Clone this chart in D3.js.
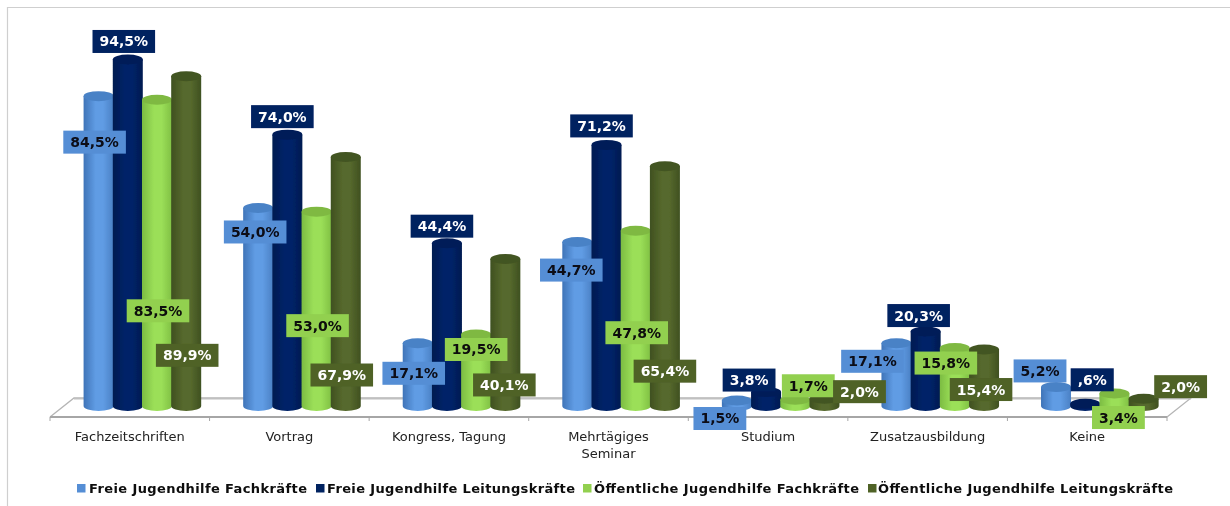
<!DOCTYPE html>
<html><head><meta charset="utf-8">
<script src="https://cdn.jsdelivr.net/npm/d3@7"></script>
<style>html,body{margin:0;padding:0;background:#fff}svg{display:block}</style>
</head><body><svg id="c" width="1230" height="506"></svg>
<script>
const categories = [["Fachzeitschriften"],["Vortrag"],["Kongress, Tagung"],["Mehrtägiges","Seminar"],["Studium"],["Zusatzausbildung"],["Keine"]];
const seriesNames = ["Freie Jugendhilfe Fachkräfte","Freie Jugendhilfe Leitungskräfte","Öffentliche Jugendhilfe Fachkräfte","Öffentliche Jugendhilfe Leitungskräfte"];
const freieFach = [84.5,54.0,17.1,44.7,1.5,17.1,5.2];
const freieLeitung = [94.5,74.0,44.4,71.2,3.8,20.3,0.6];
const oeffFach = [83.5,53.0,19.5,47.8,1.7,15.8,3.4];
const oeffLeitung = [89.9,67.9,40.1,65.4,2.0,15.4,2.0];
const valueSeries = [freieFach,freieLeitung,oeffFach,oeffLeitung];
// label nudges [dx,dy] relative to each bar's centre and top
const labelNudges = [
 [[-4,46],[-3,24],[-4,30],[-6,28],[-17,18],[-24,18],[-16,-16]],
 [[-4,-18],[-5,-18],[-5,-17],[-5,-19],[-17,-12],[-7,-16],[7,-24]],
 [[1,211],[1,114],[0,15],[1,102],[13,-14],[-9,15],[4,24]],
 [[1,279],[-4,218],[-1,126],[0,205],[35,-7],[-3,40],[37,-12]]
];
const palette = [
 {edge:"#3f74b8",mid:"#609ce4",right:"#4a80c4",cap:"#4a82c6",box:"#558ed5",text:"#0a0a14"},
 {edge:"#001a50",mid:"#002368",right:"#001a50",cap:"#001c58",box:"#002060",text:"#ffffff"},
 {edge:"#7cbc42",mid:"#9bdf58",right:"#80c044",cap:"#7fb943",box:"#92d050",text:"#0a0a0a"},
 {edge:"#3f5020",mid:"#56692d",right:"#3f5020",cap:"#435422",box:"#4f6228",text:"#ffffff"}
];
const fmt = v => (v<1 ? String(v.toFixed(1)).replace(/^0/,"") : v.toFixed(1)).replace(".",",")+"%";

const svg = d3.select("#c");
const W=1230;
const x = d3.scaleBand().domain(d3.range(categories.length)).range([50,1167]).paddingInner(0).paddingOuter(0);
const y = d3.scaleLinear().domain([0,100]).range([406,39.3]);
const barW = x.bandwidth()*0.183;
const barStart = x.bandwidth()*0.213;
const ry = 5;

// frame
svg.append("path").attr("d",`M7.5,506V7.5H${W}`).attr("fill","none").attr("stroke","#cfcfcf").attr("stroke-width",1.2);

// gradients
const defs = svg.append("defs");
palette.forEach((p,i)=>{
  const g = defs.append("linearGradient").attr("id","g"+i);
  g.append("stop").attr("offset","0%").attr("stop-color",p.edge);
  g.append("stop").attr("offset","40%").attr("stop-color",p.mid);
  g.append("stop").attr("offset","65%").attr("stop-color",p.mid);
  g.append("stop").attr("offset","100%").attr("stop-color",p.right);
});
defs.append("filter").attr("id","soft").append("feGaussianBlur").attr("stdDeviation",0.5);
const chart = svg.append("g").attr("filter","url(#soft)");

// floor
const fx0=x.range()[0], fx1=x.range()[1], fy=417, by=398, skew=24;
chart.append("path").attr("d",`M${fx0},${fy}L${fx0+skew},${by}H${fx1+skew}L${fx1},${fy}`).attr("fill","none").attr("stroke","#b5b5b5").attr("stroke-width",1.3);
chart.append("line").attr("x1",fx0+skew).attr("x2",fx1+skew).attr("y1",by+0.8).attr("y2",by+0.8).attr("stroke","#c0c0c0").attr("stroke-width",1.5);
// axis
const axisG = chart.append("g").attr("transform",`translate(0,${fy})`);
axisG.append("line").attr("x1",fx0).attr("x2",fx1).attr("stroke","#a6a6a6").attr("stroke-width",1.8);
d3.range(categories.length+1).forEach(i=>{
  const tx = fx0 + i*x.step();
  axisG.append("line").attr("x1",tx).attr("x2",tx).attr("y1",0).attr("y2",4).attr("stroke","#a6a6a6");
});
categories.forEach((lines,i)=>{
  const t = axisG.append("text").attr("x",x(i)+x.bandwidth()/2).attr("y",24)
    .attr("text-anchor","middle").attr("font-family","'DejaVu Sans'").attr("font-size",13).attr("fill","#222");
  lines.forEach((s,k)=>t.append("tspan").attr("x",x(i)+x.bandwidth()/2).attr("dy",k?17:0).text(s));
});

// bars
categories.forEach((_,c)=>{
  valueSeries.forEach((vals,s)=>{
    const bx = x(c)+barStart+s*barW, top=y(vals[c]), base=y(0), p=palette[s], rx=barW/2+0.4;
    const cx=bx+barW/2;
    chart.append("path")
      .attr("d",`M${cx-rx},${top}V${base}A${rx},${ry} 0 0 0 ${cx+rx},${base}V${top}Z`)
      .attr("fill",`url(#g${s})`);
    chart.append("ellipse").attr("cx",cx).attr("cy",top).attr("rx",rx).attr("ry",ry).attr("fill",p.cap);
  });
});
// labels
const labels = chart.append("g");
valueSeries.forEach((vals,s)=>{
  categories.forEach((_,c)=>{
    const cx = x(c)+barStart+s*barW+barW/2, top=y(vals[c]);
    const [dx,dy]=labelNudges[s][c];
    const g = labels.append("g").attr("transform",`translate(${cx+dx},${top+dy})`);
    const rect = g.append("rect");
    const t = g.append("text").attr("text-anchor","middle").attr("y",5).attr("font-family","'DejaVu Sans'")
      .attr("font-weight","bold").attr("font-size",14).attr("fill",palette[s].text).text(fmt(vals[c]));
    const w = t.node().getComputedTextLength()+14;
    rect.attr("x",-w/2).attr("y",-11.5).attr("width",w).attr("height",23).attr("fill",palette[s].box);
  });
});

// legend
const legendStart=[77,316,583,868], legendTextX=[12,11,11,10], legendW=[218,248,265,295];
seriesNames.forEach((n,i)=>{
  const g = chart.append("g").attr("transform",`translate(${legendStart[i]},488)`);
  g.append("rect").attr("x",0).attr("y",-4).attr("width",8.5).attr("height",8.5).attr("fill",palette[i].box);
  g.append("text").attr("x",legendTextX[i]).attr("y",5).attr("font-family","'DejaVu Sans'").attr("font-weight","bold")
    .attr("font-size",13).attr("fill","#0a0a0a").attr("textLength",legendW[i]).attr("lengthAdjust","spacing").text(n);
});
</script></body></html>
